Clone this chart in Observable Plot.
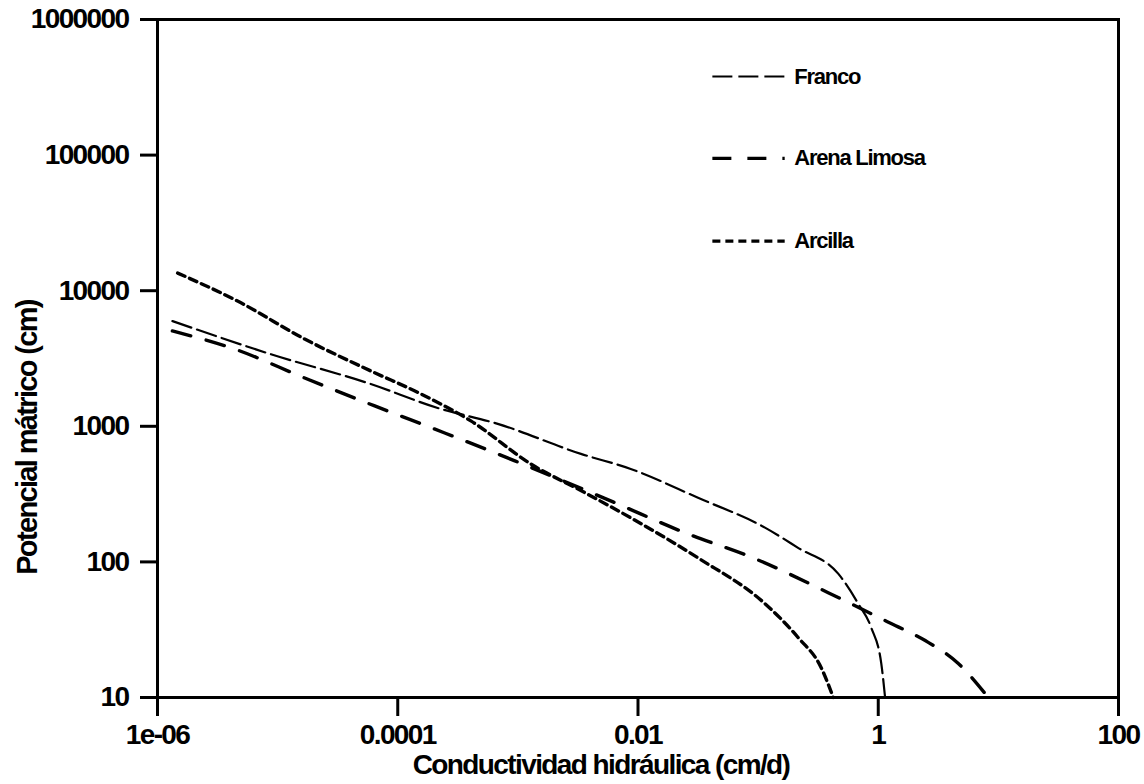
<!DOCTYPE html>
<html>
<head>
<meta charset="utf-8">
<script src="https://cdn.jsdelivr.net/npm/d3@7"></script>
<script src="https://cdn.jsdelivr.net/npm/@observablehq/plot@0.6"></script>
<style>
  html, body { margin: 0; padding: 0; background: #fff; }
  #chart svg { display: block; }
</style>
</head>
<body>
<div id="chart"></div>
<script>
// ---- Data ----
const xTicks = [1e-6, 1e-4, 1e-2, 1, 100];
const xTickLabels = ["1e-06", "0.0001", "0.01", "1", "100"];
const yTicks = [10, 100, 1000, 10000, 100000, 1000000];
const yTickLabels = ["10", "100", "1000", "10000", "100000", "1000000"];

const francoK = [1.33e-6, 8.7e-6, 5.96e-5, 2.15e-4, 6.8e-4, 3.35e-3, 8.7e-3, 0.0316, 0.114, 0.215, 0.464, 0.681, 0.875, 1.06, 1.14];
const francoH = [5970, 3410, 2050, 1365, 1042, 626, 485, 297, 179, 127, 81.9, 49.2, 32.7, 17.8, 10];

const arenaK = [1.33e-6, 4.38e-6, 1.68e-5, 6.43e-5, 2.46e-4, 9.44e-4, 6.43e-3, 0.0246, 0.0944, 0.383, 1.28, 2.46, 4.64, 8.25];
const arenaH = [5050, 3715, 2270, 1413, 893, 556, 273, 164, 105.6, 59.3, 35.1, 26.3, 17.8, 10];

const arcillaK = [1.47e-6, 4.64e-6, 1.68e-5, 5.96e-5, 1.56e-4, 4.06e-4, 1.28e-3, 3.61e-3, 8.74e-3, 0.0316, 0.114, 0.215, 0.335, 0.422];
const arcillaH = [13490, 8380, 4400, 2560, 1733, 1096, 528, 324, 211, 107, 49.2, 27.7, 16.6, 10];

const seriesNames = ["Franco", "Arena Limosa", "Arcilla"];
const legendY = [380000, 94600, 23200];
const legendX1 = 0.042;
const legendX2 = 0.168;
const legendTextX = 0.2;

const xLabel = "Conductividad hidráulica (cm/d)";
const yLabel = "Potencial mátrico (cm)";

// ---- Build tables ----
const toRows = (K, H) => K.map((k, i) => ({k, h: H[i]}));
const franco = toRows(francoK, francoH);
const arena = toRows(arenaK, arenaH);
const arcilla = toRows(arcillaK, arcillaH);

const styles = [
  {strokeWidth: 2.2, strokeDasharray: "20,6"},
  {strokeWidth: 3.4, strokeDasharray: "19,16"},
  {strokeWidth: 3.4, strokeDasharray: "8,5"}
];
const legendRows = seriesNames.map((name, i) => ({name, y: legendY[i], i}));

const font = "'Liberation Sans', Arial, Helvetica, sans-serif";

const chart = Plot.plot({
  width: 1144,
  height: 784,
  marginLeft: 157,
  marginRight: 26,
  marginTop: 19,
  marginBottom: 87,
  style: {fontFamily: font, fontWeight: "bold", fontSize: "28px", color: "#000", background: "#fff"},
  x: {type: "log", domain: [1e-6, 100]},
  y: {type: "log", domain: [10, 1000000]},
  marks: [
    Plot.axisX({ticks: xTicks, tickFormat: d => xTickLabels[xTicks.indexOf(d)], tickSize: 19, tickPadding: 8, strokeWidth: 3, label: null, fontSize: 28, fontWeight: "bold"}),
    Plot.axisY({ticks: yTicks, tickFormat: d => yTickLabels[yTicks.indexOf(d)], tickSize: 17, tickPadding: 12, strokeWidth: 3, label: null, fontSize: 28, fontWeight: "bold"}),
    Plot.frame({stroke: "#000", strokeWidth: 3}),
    Plot.line(franco, {x: "k", y: "h", curve: "monotone-x", stroke: "#000", ...styles[0]}),
    Plot.line(arena, {x: "k", y: "h", curve: "monotone-x", stroke: "#000", ...styles[1]}),
    Plot.line(arcilla, {x: "k", y: "h", curve: "monotone-x", stroke: "#000", ...styles[2]}),
    // legend
    ...legendRows.map(r => Plot.ruleY([r], {y: "y", x1: legendX1, x2: legendX2, stroke: "#000", ...styles[r.i]})),
    Plot.text(legendRows, {x: legendTextX, y: "y", text: "name", textAnchor: "start", fontSize: 22, fontWeight: "bold", fill: "#000"}),
    // axis labels
    Plot.text([xLabel], {frameAnchor: "bottom", text: d => d, textAnchor: "middle", lineAnchor: "middle", dx: -37, dy: 68, fontSize: 28, fontWeight: "bold", fill: "#000"}),
    Plot.text([yLabel], {frameAnchor: "left", text: d => d, textAnchor: "middle", lineAnchor: "middle", dx: -130, dy: 79, rotate: -90, fontSize: 29, fontWeight: "bold", fill: "#000"})
  ]
});

document.getElementById("chart").appendChild(chart);

// condense the bold text a little, like the reference's narrow lettering
chart.querySelectorAll("text").forEach(t => {
  const fs = parseFloat(getComputedStyle(t).fontSize) || 28;
  t.style.letterSpacing = (-0.057 * fs).toFixed(2) + "px";
});
</script>
</body>
</html>
